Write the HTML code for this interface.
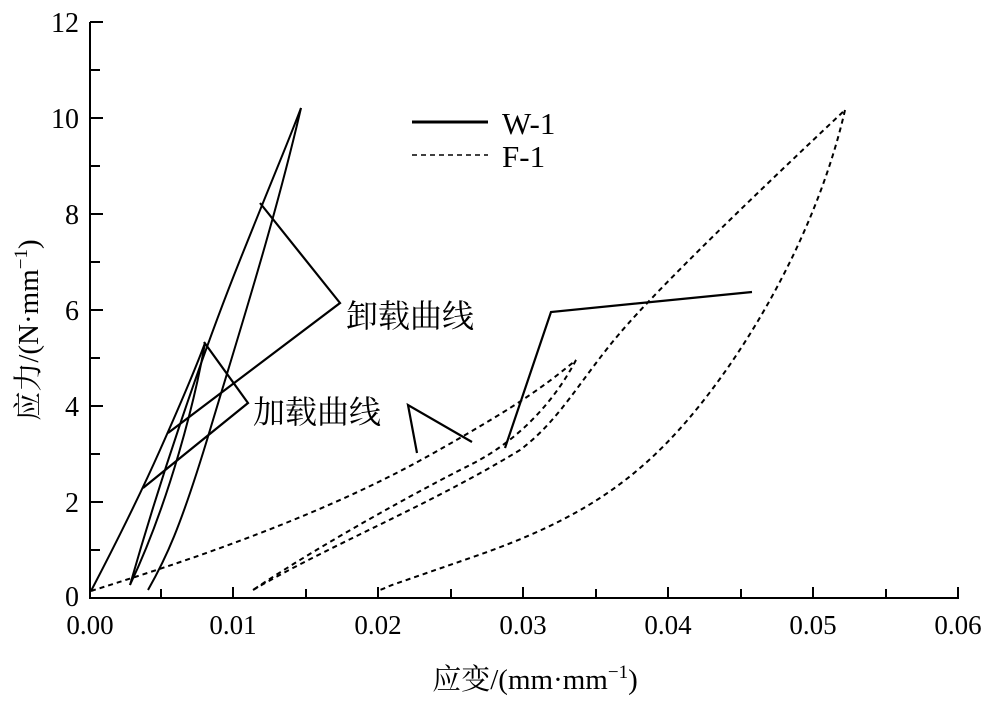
<!DOCTYPE html>
<html><head><meta charset="utf-8"><style>
html,body{margin:0;padding:0;background:#fff;}
svg{display:block;}
text{font-family:"Liberation Serif","Noto Serif CJK SC",serif;fill:#000;}
.cjk{font-family:"Liberation Serif","Noto Serif CJK SC",serif;}
</style></head><body>
<svg width="1000" height="705" viewBox="0 0 1000 705">
<g stroke="#000" stroke-width="2" fill="none">
<line x1="90" y1="22" x2="90" y2="598"/>
<line x1="89" y1="598" x2="959" y2="598"/>
<path d="M90 22h13M90 70h10M90 118h13M90 166h10M90 214h13M90 262h10M90 310h13M90 358h10M90 406h13M90 454h10M90 502h13M90 550h10"/>
<path d="M161 598v-9M233 598v-11M306 598v-9M378 598v-11M451 598v-9M523 598v-11M596 598v-9M668 598v-11M741 598v-9M813 598v-11M886 598v-9M958 598v-11"/>
</g>
<g font-size="28" text-anchor="end">
<text x="79" y="32">12</text><text x="79" y="128">10</text><text x="79" y="224">8</text>
<text x="79" y="320">6</text><text x="79" y="416">4</text><text x="79" y="512">2</text><text x="79" y="606">0</text>
</g>
<g font-size="27" text-anchor="middle">
<text x="90" y="634">0.00</text><text x="233" y="634">0.01</text><text x="378" y="634">0.02</text>
<text x="523" y="634">0.03</text><text x="668" y="634">0.04</text><text x="813" y="634">0.05</text><text x="958" y="634">0.06</text>
</g>
<text x="535" y="689" font-size="29" text-anchor="middle" class="cjk">应变/(mm·mm<tspan font-size="19" dy="-11">−1</tspan><tspan dy="11">)</tspan></text>
<text transform="translate(38,330) rotate(-90)" font-size="29" text-anchor="middle" class="cjk">应力/(N·mm<tspan font-size="19" dy="-11">−1</tspan><tspan dy="11">)</tspan></text>
<line x1="412" y1="122" x2="488" y2="122" stroke="#000" stroke-width="3"/>
<text x="502" y="134" font-size="31">W-1</text>
<line x1="412" y1="155" x2="488" y2="155" stroke="#000" stroke-width="1.5" stroke-dasharray="5,4"/>
<text x="502" y="167" font-size="31">F-1</text>
<g stroke="#000" stroke-width="2" fill="none" stroke-linejoin="round">
<path d="M91,591 C115,545 140,495 160,450 S195,370 205,343"/>
<path d="M205,343 C195,400 170,500 130,585"/>
<path d="M130,585 C160,480 200,360 240,260 S285,150 301,108"/>
<path d="M301,108 C275,220 240,330 210,430 S165,560 148,590"/>
</g>
<g stroke="#000" stroke-width="2" fill="none" stroke-dasharray="5,4">
<path d="M91,591 L135,577 C250,540 350,500 430,455 S540,390 576,360"/>
<path d="M576,360 C555,400 520,440 470,465 S320,545 253,590"/>
<path d="M253,590 C330,545 430,505 520,450 C560,420 580,380 620,333 S760,190 845,110"/>
<path d="M845,110 C820,220 760,330 700,405 S580,520 473,557 S400,582 380,590"/>
</g>
<g stroke="#000" stroke-width="2.2" fill="none">
<polyline points="260,203 340,303 168,433"/>
<polyline points="204,342 248,403 143,488"/>
<polyline points="752,292 551,312 505,448"/>
<polyline points="417,453 408,405 472,442"/>
</g>
<text x="346" y="327" font-size="32" class="cjk">卸载曲线</text>
<text x="253" y="423" font-size="32" class="cjk">加载曲线</text>
</svg>
</body></html>
